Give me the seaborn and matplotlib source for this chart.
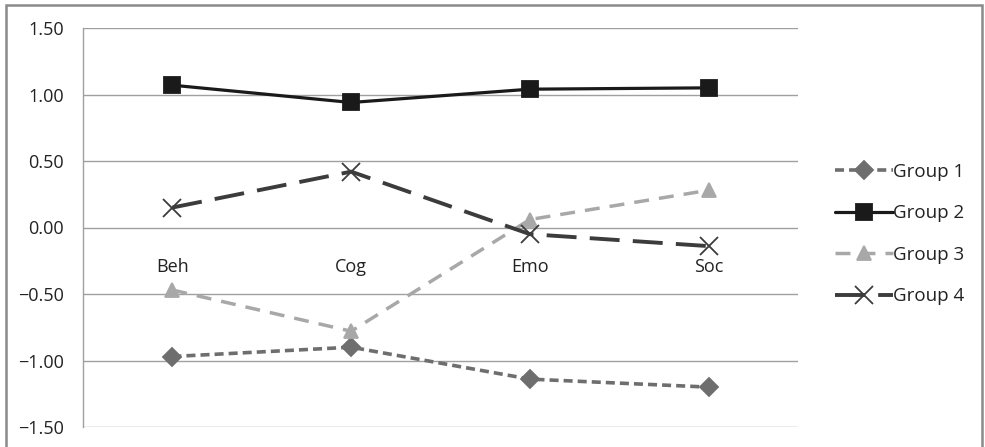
import pandas as pd
import matplotlib
matplotlib.use("Agg")
import matplotlib.pyplot as plt
import matplotlib.patches as patches
import seaborn as sns

# datos
categorias = ["Beh", "Cog", "Emo", "Soc"]
grupos = ["Group 1", "Group 2", "Group 3", "Group 4"]
group1 = [-0.97, -0.90, -1.14, -1.20]
group2 = [1.07, 0.94, 1.04, 1.05]
group3 = [-0.47, -0.78, 0.06, 0.28]
group4 = [0.15, 0.42, -0.05, -0.14]
yticks = [-1.5, -1.0, -0.5, 0.0, 0.5, 1.0, 1.5]

filas = []
for g, vals in zip(grupos, [group1, group2, group3, group4]):
    for c, v in zip(categorias, vals):
        filas.append({"cat": c, "valor": v, "grupo": g})
df = pd.DataFrame(filas)

sns.set_theme(style="white")
plt.rcParams['font.family'] = ['Open Sans', 'DejaVu Sans']

fig = plt.figure(figsize=(9.85, 4.47), dpi=100)
ax = fig.add_axes([83 / 985, 1 - 427 / 447, (798 - 83) / 985, (427 - 28) / 447])

colores = {"Group 1": "#6e6e6e", "Group 2": "#1a1a1a", "Group 3": "#a8a8a8", "Group 4": "#3c3c3c"}
marcadores = {"Group 1": "D", "Group 2": "s", "Group 3": "^", "Group 4": "x"}
tamanos = {"Group 1": 9, "Group 2": 11, "Group 3": 10, "Group 4": 13}
grosor = {"Group 1": 2.6, "Group 2": 2.3, "Group 3": 2.5, "Group 4": 2.8}
guiones = {"Group 1": (0, (2.5, 1.4)), "Group 2": "-", "Group 3": (0, (4.3, 2.9)), "Group 4": (0, (7.7, 3.4))}

for g in grupos:
    sns.lineplot(data=df[df["grupo"] == g], x="cat", y="valor", color=colores[g],
                 marker=marcadores[g], markersize=tamanos[g], markeredgewidth=1.3,
                 markeredgecolor=colores[g], linestyle=guiones[g],
                 linewidth=grosor[g], ax=ax, sort=False, label=g)

ax.set_xlim(-0.5, 3.5)
ax.set_ylim(-1.5, 1.5)
ax.set_yticks(yticks)
ax.set_yticklabels([f"{t:.2f}".replace("-", "\u2212") for t in yticks], fontsize=13, color="#222222")
ax.tick_params(axis="y", length=0, pad=14)
ax.tick_params(axis="x", length=0, pad=22, labelsize=13, labelcolor="#222222")
ax.set_xlabel("")
ax.set_ylabel("")
ax.yaxis.grid(True, color="#a0a0a0", linewidth=1)
ax.set_axisbelow(True)

# eje de categorias en y=0 como en Excel
ax.spines["bottom"].set_position(("data", 0))
ax.spines["bottom"].set_visible(False)
ax.spines["top"].set_visible(False)
ax.spines["right"].set_visible(False)
ax.spines["left"].set_color("#a0a0a0")
ax.spines["left"].set_linewidth(1)

leg = ax.legend(loc="center left", bbox_to_anchor=(818 / 985, 1 - 234 / 447),
                bbox_transform=fig.transFigure, frameon=False, fontsize=13.5,
                handlelength=3.1, labelspacing=1.25, handletextpad=0.0)
for t in leg.get_texts():
    t.set_color("#222222")

# borde exterior
fig.patches.append(patches.Rectangle((6 / 985, -0.02), (982 - 6) / 985, 1 - 5 / 447 + 0.02,
                                     transform=fig.transFigure, fill=False,
                                     edgecolor="#8a8a8a", linewidth=1.8))

plt.savefig("out.png", dpi=100)
